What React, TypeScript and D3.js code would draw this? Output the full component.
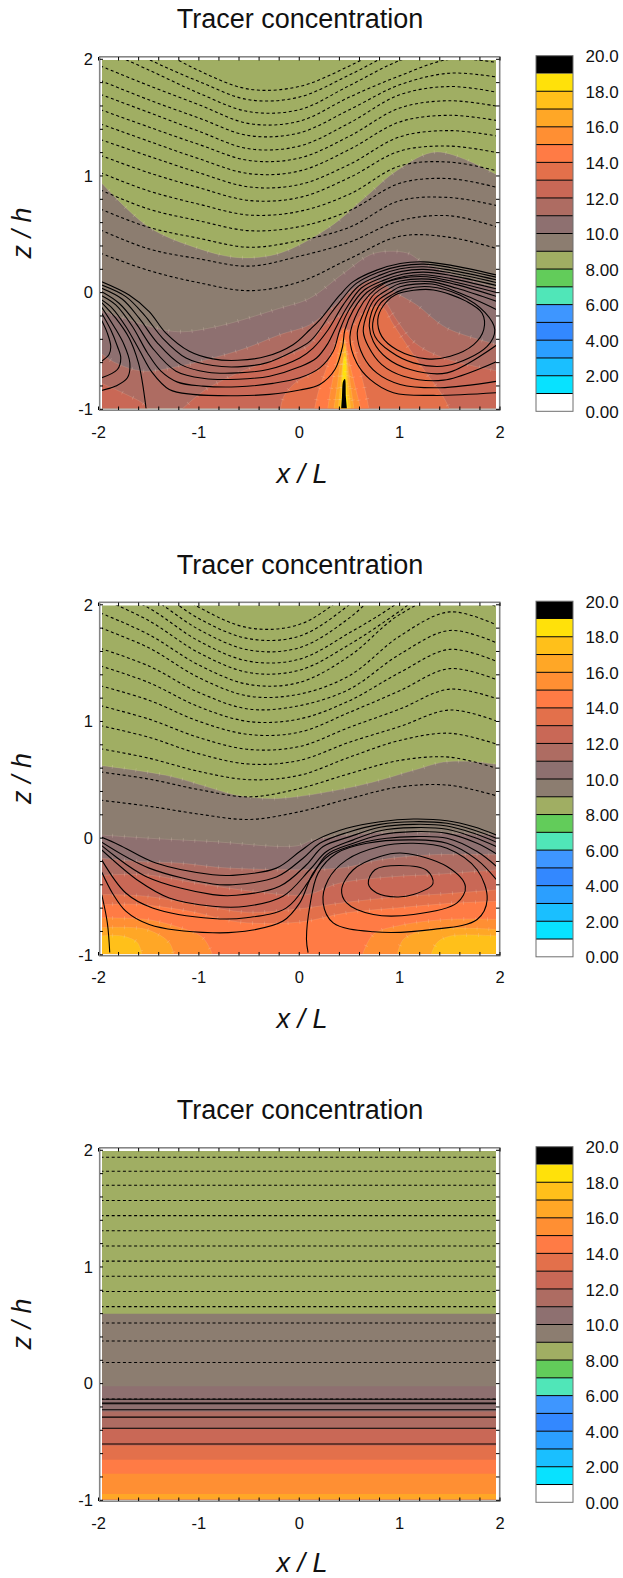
import React from "react";
import * as d3 from "d3";

type P = [number, number];

const titleText = "Tracer concentration";
const xTickLabels = [-2, -1, 0, 1, 2];
const zTickLabels = [-1, 0, 1, 2];
const colorbarLabels = ["0.00", "2.00", "4.00", "6.00", "8.00", "10.0", "12.0", "14.0", "16.0", "18.0", "20.0"];
const palette = ["#ffffff", "#08e2ff", "#1abfff", "#2b9fff", "#3388ff", "#3e96ff", "#50e6b8", "#62cc5a", "#a0ae63", "#8c7d70", "#8e7070", "#ae6c62", "#c96856", "#e3704b", "#ff7b45", "#ff8f33", "#ffa726", "#ffc01a", "#ffe10a", "#000000"];

const dashedColumns = [-1.98, -1.5, -1, -0.5, 0, 0.5, 1, 1.5, 1.98];

const panel1Dashed = [
  [2.363, 2.136, 1.903, 1.744, 1.767, 1.943, 2.165, 2.307, 2.278],
  [2.221, 2.0, 1.81, 1.653, 1.676, 1.866, 2.08, 2.207, 2.179],
  [2.094, 1.909, 1.71, 1.551, 1.568, 1.775, 1.989, 2.108, 2.065],
  [1.943, 1.775, 1.611, 1.449, 1.469, 1.676, 1.858, 2.0, 1.971],
  [1.818, 1.653, 1.497, 1.346, 1.369, 1.568, 1.781, 1.881, 1.846],
  [1.699, 1.545, 1.383, 1.233, 1.256, 1.454, 1.696, 1.767, 1.716],
  [1.568, 1.42, 1.27, 1.133, 1.153, 1.341, 1.582, 1.645, 1.596],
  [1.446, 1.298, 1.148, 1.02, 1.042, 1.227, 1.463, 1.52, 1.474],
  [1.312, 1.17, 1.028, 0.906, 0.926, 1.099, 1.335, 1.389, 1.341],
  [1.176, 1.028, 0.9, 0.79, 0.815, 0.986, 1.213, 1.256, 1.199],
  [1.028, 0.872, 0.758, 0.665, 0.696, 0.844, 1.085, 1.119, 1.042],
  [0.88, 0.716, 0.616, 0.531, 0.565, 0.702, 0.937, 0.977, 0.9],
  [0.716, 0.56, 0.466, 0.389, 0.446, 0.56, 0.787, 0.815, 0.744],
  [0.537, 0.375, 0.29, 0.227, 0.312, 0.432, 0.616, 0.659, 0.56],
  [0.338, 0.19, 0.085, 0.017, 0.091, 0.29, 0.483, 0.474, 0.375],
];

const panel2Dashed = [
  [2.47, 2.266, 1.979, 1.802, 1.831, 2.101, 2.399, 2.882, 2.797],
  [2.342, 2.172, 1.882, 1.709, 1.731, 2.001, 2.385, 2.726, 2.626],
  [2.243, 2.072, 1.788, 1.612, 1.632, 1.888, 2.285, 2.57, 2.456],
  [2.158, 1.973, 1.689, 1.516, 1.533, 1.76, 2.03, 2.413, 2.314],
  [2.058, 1.865, 1.589, 1.419, 1.439, 1.66, 1.945, 2.257, 2.158],
  [1.93, 1.746, 1.484, 1.317, 1.334, 1.561, 1.916, 2.092, 1.979],
  [1.802, 1.632, 1.376, 1.217, 1.234, 1.393, 1.731, 1.939, 1.822],
  [1.626, 1.476, 1.249, 1.106, 1.135, 1.277, 1.575, 1.78, 1.669],
  [1.476, 1.334, 1.126, 0.999, 1.021, 1.178, 1.419, 1.618, 1.51],
  [1.305, 1.183, 1.001, 0.888, 0.908, 1.078, 1.263, 1.453, 1.354],
  [1.135, 1.021, 0.862, 0.76, 0.785, 0.95, 1.106, 1.277, 1.192],
  [0.964, 0.865, 0.723, 0.635, 0.666, 0.822, 0.956, 1.098, 0.999],
  [0.766, 0.686, 0.572, 0.501, 0.538, 0.694, 0.837, 0.899, 0.802],
  [0.567, 0.507, 0.416, 0.354, 0.425, 0.553, 0.666, 0.694, 0.595],
  [0.325, 0.274, 0.206, 0.16, 0.226, 0.339, 0.439, 0.453, 0.359],
];

const panel3DashedLevels = [1.94, 1.82, 1.7, 1.57, 1.44, 1.31, 1.18, 1.05, 0.92, 0.79, 0.66, 0.52, 0.365, 0.181, -0.132];
const panel3SolidLevels = [-0.134, -0.166, -0.172, -0.224, -0.287, -0.382, -0.517];
const panel3BandLevels = [9, 10, 11, 12, 13, 14, 15, 16];
const panel3BandTops = [0.6, -0.023, -0.239, -0.388, -0.532, -0.652, -0.773, -0.945];

const panel1Bands: { level: number; edge: P[] }[] = [
  { level: 9, edge: [[-1.98, 0.95], [-1.5, 0.563], [-1.0, 0.377], [-0.606, 0.3], [-0.21, 0.334], [0.305, 0.563], [0.66, 0.82], [0.978, 1.049], [1.374, 1.206], [1.98, 1.005]] },
  { level: 10, edge: [[-1.98, -0.148], [-1.26, -0.332], [-0.86, -0.298], [-0.195, -0.134], [0.105, -0.048], [0.44, 0.165], [0.74, 0.335], [1.07, 0.341], [1.2, 0.278], [1.5, 0.165], [1.98, 0.037]] },
  { level: 11, edge: [[-1.98, -0.517], [-1.83, -0.602], [-1.56, -0.673], [-1.195, -0.631], [-0.86, -0.56], [-0.53, -0.475], [-0.195, -0.361], [0.105, -0.276], [0.34, -0.12], [0.57, 0.05], [0.755, 0.108], [0.97, -0.006], [1.17, -0.105], [1.47, -0.304], [1.98, -0.446]] },
  { level: 12, edge: [[-1.98, -0.773], [-1.76, -0.858], [-1.545, -0.957], [-1.49, -1.02]] },
  { level: 12, edge: [[-1.195, -1.02], [-0.93, -0.83], [-0.53, -0.66], [-0.195, -0.56], [0.105, -0.446], [0.24, -0.29], [0.505, -0.148], [0.72, -0.02], [0.805, -0.02], [0.97, -0.233], [1.155, -0.432], [1.44, -0.56], [1.98, -0.673]] },
  { level: 13, edge: [[-0.19, -1.02], [-0.16, -0.9], [-0.05, -0.78], [0.17, -0.67], [0.34, -0.517], [0.505, -0.318], [0.67, -0.148], [0.82, -0.12], [0.94, -0.276], [1.07, -0.446], [1.24, -0.659], [1.42, -0.872], [1.49, -0.986], [1.5, -1.02]] },
  { level: 14, edge: [[0.147, -1.02], [0.19, -0.85], [0.27, -0.65], [0.37, -0.42], [0.45, -0.3], [0.53, -0.42], [0.6, -0.65], [0.66, -0.85], [0.7, -1.02]] },
  { level: 15, edge: [[0.28, -1.02], [0.31, -0.85], [0.37, -0.6], [0.44, -0.38], [0.5, -0.6], [0.57, -0.85], [0.62, -1.02]] },
  { level: 16, edge: [[0.34, -1.02], [0.37, -0.85], [0.41, -0.6], [0.45, -0.42], [0.48, -0.6], [0.52, -0.85], [0.55, -1.02]] },
  { level: 17, edge: [[0.385, -1.02], [0.41, -0.8], [0.44, -0.55], [0.455, -0.46], [0.47, -0.55], [0.49, -0.8], [0.515, -1.02]] },
  { level: 18, edge: [[0.41, -1.02], [0.425, -0.8], [0.45, -0.55], [0.46, -0.55], [0.47, -0.8], [0.49, -1.02]] },
  { level: 19, edge: [[0.415, -1.02], [0.425, -0.9], [0.437, -0.76], [0.455, -0.74], [0.465, -0.9], [0.478, -1.02]] },
];

const panel2Bands: { level: number; edge: P[] }[] = [
  { level: 9, edge: [[-1.98, 0.623], [-1.328, 0.538], [-0.862, 0.425], [-0.628, 0.368], [-0.295, 0.339], [-0.028, 0.354], [0.405, 0.416], [0.738, 0.481], [1.138, 0.581], [1.438, 0.652], [1.672, 0.658], [1.98, 0.632]] },
  { level: 10, edge: [[-1.98, 0.027], [-1.495, -0.001], [-0.862, -0.03], [-0.028, -0.067], [0.138, -0.015], [0.572, 0.036], [1.072, 0.05], [1.98, 0.027]] },
  { level: 11, edge: [[-1.98, -0.172], [-1.595, -0.2], [-1.195, -0.214], [-0.695, -0.257], [0.405, -0.257], [0.805, -0.186], [1.305, -0.143], [1.98, -0.143]] },
  { level: 12, edge: [[-1.98, -0.319], [-1.528, -0.314], [-1.028, -0.385], [-0.462, -0.456], [0.072, -0.484], [0.405, -0.385], [0.972, -0.328], [1.305, -0.314], [1.98, -0.271]] },
  { level: 13, edge: [[-1.98, -0.484], [-1.528, -0.498], [-1.028, -0.569], [-0.528, -0.635], [-0.062, -0.612], [0.472, -0.55], [0.972, -0.504], [1.472, -0.476], [1.98, -0.442]] },
  { level: 14, edge: [[-1.98, -0.57], [-1.595, -0.569], [-1.095, -0.626], [-0.595, -0.72], [0.0, -0.72], [0.472, -0.64], [0.972, -0.598], [1.472, -0.561], [1.98, -0.541]] },
  { level: 15, edge: [[-1.98, -0.683], [-1.528, -0.697], [-1.262, -0.748], [-0.962, -0.853], [-0.855, -1.02]] },
  { level: 15, edge: [[0.622, -1.02], [0.738, -0.825], [1.005, -0.748], [1.472, -0.697], [1.98, -0.697]] },
  { level: 16, edge: [[-1.98, -0.768], [-1.528, -0.782], [-1.295, -0.896], [-1.245, -1.02]] },
  { level: 16, edge: [[0.972, -1.02], [1.038, -0.868], [1.305, -0.783], [1.98, -0.783]] },
  { level: 17, edge: [[-1.98, -0.839], [-1.762, -0.839], [-1.612, -0.896], [-1.562, -1.02]] },
  { level: 17, edge: [[1.305, -1.02], [1.372, -0.896], [1.505, -0.839], [1.98, -0.839]] },
];

const panel1Open: P[][] = [
  [[-1.968, 0.094], [-1.695, -0.02], [-1.495, -0.162], [-1.328, -0.347], [-1.095, -0.503], [-0.862, -0.568], [-0.612, -0.58], [-0.328, -0.546], [-0.062, -0.446], [0.105, -0.318], [0.205, -0.233], [0.405, -0.02], [0.538, 0.094], [0.772, 0.193], [1.005, 0.25], [1.238, 0.264], [1.505, 0.236], [1.972, 0.15]],
  [[-1.968, 0.065], [-1.728, -0.034], [-1.545, -0.19], [-1.362, -0.389], [-1.128, -0.56], [-0.862, -0.625], [-0.612, -0.636], [-0.328, -0.602], [-0.062, -0.503], [0.105, -0.418], [0.205, -0.318], [0.305, -0.19], [0.422, -0.06], [0.565, 0.077], [0.788, 0.175], [1.005, 0.227], [1.238, 0.244], [1.505, 0.216], [1.972, 0.131]],
  [[-1.968, 0.037], [-1.762, -0.057], [-1.595, -0.219], [-1.412, -0.432], [-1.178, -0.617], [-0.912, -0.682], [-0.612, -0.688], [-0.312, -0.659], [0.005, -0.56], [0.138, -0.475], [0.288, -0.318], [0.438, -0.105], [0.592, 0.057], [0.805, 0.15], [1.005, 0.204], [1.238, 0.222], [1.505, 0.193], [1.972, 0.108]],
  [[-1.968, 0.008], [-1.795, -0.091], [-1.628, -0.261], [-1.462, -0.475], [-1.228, -0.673], [-0.945, -0.736], [-0.612, -0.742], [-0.295, -0.716], [0.005, -0.636], [0.172, -0.56], [0.288, -0.432], [0.355, -0.318], [0.472, -0.13], [0.618, 0.04], [0.822, 0.128], [1.022, 0.182], [1.238, 0.199], [1.505, 0.17], [1.972, 0.085]],
  [[-1.968, -0.026], [-1.828, -0.105], [-1.662, -0.29], [-1.512, -0.517], [-1.378, -0.673], [-1.212, -0.767], [-0.962, -0.801], [-0.612, -0.807], [-0.262, -0.778], [0.005, -0.73], [0.205, -0.645], [0.338, -0.503], [0.405, -0.318], [0.505, -0.134], [0.648, 0.023], [0.838, 0.105], [1.038, 0.159], [1.238, 0.176], [1.505, 0.148], [1.972, 0.06]],
  [[-1.968, -0.063], [-1.862, -0.134], [-1.728, -0.29], [-1.595, -0.489], [-1.462, -0.688], [-1.295, -0.83], [-1.062, -0.872], [-0.612, -0.884], [-0.295, -0.872], [0.005, -0.835], [0.205, -0.787], [0.355, -0.659], [0.432, -0.46], [0.455, -0.318], [0.538, -0.15], [0.675, 0.003], [0.855, 0.09], [1.055, 0.14], [1.238, 0.153], [1.505, 0.122], [1.972, 0.031]],
  [[1.972, -0.858], [1.338, -0.881], [0.938, -0.858], [0.705, -0.744], [0.572, -0.602], [0.505, -0.375], [0.59, -0.15], [0.702, -0.014], [0.85, 0.08], [1.005, 0.122], [1.272, 0.136], [1.538, 0.094], [1.972, 0.0]],
  [[1.972, -0.759], [1.405, -0.815], [1.005, -0.787], [0.772, -0.688], [0.638, -0.545], [0.578, -0.347], [0.64, -0.176], [0.728, -0.031], [0.87, 0.06], [1.005, 0.1], [1.288, 0.116], [1.555, 0.071], [1.972, -0.034]],
  [[1.972, -0.588], [1.438, -0.75], [1.038, -0.716], [0.822, -0.617], [0.688, -0.46], [0.638, -0.332], [0.68, -0.17], [0.755, -0.051], [0.89, 0.03], [1.005, 0.078], [1.305, 0.094], [1.572, 0.037], [1.972, -0.077]],
  [[1.972, -0.446], [1.472, -0.688], [1.105, -0.659], [0.872, -0.56], [0.738, -0.418], [0.698, -0.29], [0.72, -0.17], [0.785, -0.068], [0.91, 0.005], [1.005, 0.05], [1.322, 0.074], [1.605, -0.006], [1.972, -0.148]],
  [[-1.968, -0.125], [-1.845, -0.29], [-1.745, -0.446], [-1.688, -0.602], [-1.712, -0.73], [-1.828, -0.801], [-1.968, -0.838]],
  [[-1.968, -0.176], [-1.878, -0.318], [-1.812, -0.46], [-1.778, -0.56], [-1.812, -0.659], [-1.968, -0.73]],
  [[-1.968, -0.239], [-1.912, -0.347], [-1.878, -0.46], [-1.895, -0.531], [-1.968, -0.588]],
  [[-1.968, -0.085], [-1.828, -0.219], [-1.695, -0.389], [-1.602, -0.602], [-1.562, -0.773], [-1.525, -1.0]],
];

const panel1Closed: P[][] = [
  [[1.948, -0.318], [1.872, -0.46], [1.472, -0.625], [1.138, -0.602], [0.905, -0.503], [0.755, -0.375], [0.732, -0.261], [0.812, -0.088], [0.93, -0.015], [1.05, 0.03], [1.3, 0.051], [1.6, -0.02], [1.85, -0.17]],
  [[1.838, -0.318], [1.822, -0.176], [1.672, -0.077], [1.338, 0.023], [1.138, 0.02], [0.955, -0.02], [0.835, -0.115], [0.782, -0.233], [0.822, -0.375], [0.972, -0.489], [1.272, -0.568], [1.505, -0.546], [1.738, -0.446]],
];

const panel2Open: P[][] = [
  [[-1.968, 0.007], [-1.795, -0.058], [-1.428, -0.214], [-0.862, -0.314], [-0.662, -0.319], [-0.228, -0.257], [0.005, -0.115], [0.172, -0.015], [0.472, 0.084], [0.805, 0.141], [1.138, 0.164], [1.472, 0.149], [1.738, 0.098], [1.965, 0.027]],
  [[-1.968, -0.035], [-1.495, -0.257], [-0.862, -0.393], [-0.662, -0.399], [-0.228, -0.334], [0.038, -0.172], [0.205, -0.044], [0.472, 0.047], [0.805, 0.118], [1.138, 0.141], [1.472, 0.127], [1.738, 0.07], [1.965, -0.001]],
  [[-1.968, -0.064], [-1.528, -0.328], [-0.862, -0.484], [-0.628, -0.49], [-0.195, -0.413], [0.072, -0.228], [0.238, -0.072], [0.505, 0.013], [0.805, 0.093], [1.138, 0.118], [1.472, 0.104], [1.738, 0.041], [1.965, -0.035]],
  [[-1.968, -0.101], [-1.595, -0.37], [-1.295, -0.513], [-0.862, -0.584], [-0.528, -0.584], [-0.162, -0.498], [0.105, -0.271], [0.272, -0.115], [0.538, -0.015], [0.805, 0.064], [1.138, 0.09], [1.472, 0.076], [1.738, 0.007], [1.965, -0.072]],
  [[-1.968, -0.186], [-1.728, -0.47], [-1.462, -0.598], [-0.862, -0.689], [-0.528, -0.683], [-0.128, -0.598], [0.105, -0.356], [0.272, -0.143], [0.538, -0.044], [0.805, 0.027], [1.138, 0.056], [1.472, 0.041], [1.772, -0.044], [1.965, -0.135]],
  [[-1.968, -0.291], [-1.862, -0.47], [-1.728, -0.626], [-1.495, -0.74], [-0.862, -0.811], [-0.462, -0.788], [-0.162, -0.711], [0.005, -0.555], [0.138, -0.3], [0.305, -0.143], [0.605, -0.044], [0.872, -0.001], [1.138, 0.013], [1.472, -0.001], [1.772, -0.115], [1.965, -0.243]],
  [[-1.968, -0.484], [-1.912, -0.726], [-1.888, -0.981]],
  [[0.088, -0.981], [0.072, -0.868], [0.105, -0.584], [0.188, -0.3], [0.372, -0.129], [0.672, -0.044], [1.138, -0.015], [1.472, -0.044], [1.772, -0.186], [1.965, -0.356]],
];

const panel2Closed: P[][] = [
  [[0.238, -0.555], [0.288, -0.356], [0.472, -0.186], [0.805, -0.072], [1.138, -0.044], [1.472, -0.086], [1.772, -0.271], [1.872, -0.527], [1.772, -0.697], [1.338, -0.782], [0.738, -0.802], [0.338, -0.726]],
  [[0.422, -0.442], [0.538, -0.271], [0.805, -0.157], [1.038, -0.129], [1.472, -0.243], [1.655, -0.413], [1.572, -0.555], [1.138, -0.655], [0.738, -0.655], [0.472, -0.555]],
  [[0.688, -0.39], [0.755, -0.271], [1.005, -0.234], [1.272, -0.277], [1.332, -0.39], [1.138, -0.484], [0.972, -0.504], [0.772, -0.47]],
];

const xFill: [number, number] = [-1.965, 1.96];
const zFill: [number, number] = [-0.99, 1.993];

const x = d3.scaleLinear().domain([-2, 2]).range([98.5, 500]);
const z = d3.scaleLinear().domain([-1, 2]).range([409.3, 59.3]);
const cbar = d3.scaleLinear().domain([0, 20]).range([411.3, 55.7]);

const openLine = d3.line<P>().x((d) => x(d[0])).y((d) => z(d[1])).curve(d3.curveCatmullRom.alpha(0.5));
const closedLine = d3.line<P>().x((d) => x(d[0])).y((d) => z(d[1])).curve(d3.curveCatmullRomClosed.alpha(0.5));
const bandPath = (edge: P[]) => {
  const first = edge[0];
  const last = edge[edge.length - 1];
  return `${openLine(edge)}L${x(last[0])},${z(-1.03)}L${x(first[0])},${z(-1.03)}Z`;
};

const sans = "'Liberation Sans', Arial, sans-serif";

function Panel({ offset, id, bands, dashed, open, closed, marked, labelShift = 0 }: {
  offset: number; id: string; bands: { level: number; edge: P[] }[]; dashed: P[][]; open: P[][]; closed: P[][]; marked: boolean; labelShift?: number;
}) {
  const xTicks = d3.range(-10, 11).map((d) => d / 5);
  const zTicks = d3.range(-5, 11).map((d) => d / 5);
  const levels = d3.range(0, 20);
  return (
    <g transform={`translate(0,${offset})`} fontFamily={sans} fill="#111">
      <text x={300} y={28} fontSize={27} textAnchor="middle">{titleText}</text>
      <clipPath id={id}>
        <rect x={x(xFill[0])} y={z(zFill[1])} width={x(xFill[1]) - x(xFill[0])} height={z(zFill[0]) - z(zFill[1])} />
      </clipPath>
      <g clipPath={`url(#${id})`}>
        <rect x={90} y={50} width={420} height={370} fill={palette[8]} />
        {bands.map((b, i) => (
          <g key={i}>
            <path d={bandPath(b.edge)} fill={palette[b.level]} />
            {marked && b.level < 19 && (
              <>
                <path d={openLine(b.edge) ?? ""} fill="none" stroke="#f0dcc8" strokeOpacity={0.2} strokeWidth={0.8} />
                <path d={openLine(b.edge) ?? ""} fill="none" stroke="#f0dcc8" strokeOpacity={0.28} strokeWidth={4} strokeDasharray="0.8 11" />
              </>
            )}
          </g>
        ))}
        {dashed.map((d, i) => (
          <path key={i} d={openLine(d) ?? ""} fill="none" stroke="#000" strokeWidth={1.1} strokeDasharray="3 2.6" />
        ))}
        {open.map((d, i) => (
          <path key={i} d={openLine(d) ?? ""} fill="none" stroke="#000" strokeWidth={1.1} />
        ))}
        {closed.map((d, i) => (
          <path key={i} d={closedLine(d) ?? ""} fill="none" stroke="#000" strokeWidth={1.1} />
        ))}
      </g>
      <rect x={99.7} y={56.8} width={400} height={353.4} fill="none" stroke="#858585" strokeWidth={1.6} />
      {xTicks.map((t) => (
        <g key={t} stroke="#000" strokeWidth={1}>
          <line x1={x(t)} x2={x(t)} y1={410} y2={406.5} />
          <line x1={x(t)} x2={x(t)} y1={57} y2={60.5} />
        </g>
      ))}
      {zTicks.map((t) => (
        <g key={t} stroke="#000" strokeWidth={1}>
          <line x1={100} x2={103} y1={z(t)} y2={z(t)} />
          <line x1={496} x2={499.5} y1={z(t)} y2={z(t)} />
        </g>
      ))}
      {xTickLabels.map((t) => (
        <text key={t} x={x(t)} y={437.7} fontSize={16.5} textAnchor="middle">{t}</text>
      ))}
      {zTickLabels.map((t) => (
        <text key={t} x={93} y={z(t) + 5.8} fontSize={16.5} textAnchor="end">{t}</text>
      ))}
      <text x={302} y={482.7 + labelShift} fontSize={27} fontStyle="italic" textAnchor="middle">x / L</text>
      <text transform="translate(31,233) rotate(-90)" fontSize={27} fontStyle="italic" textAnchor="middle">z / h</text>
      {levels.map((l) => (
        <rect key={l} x={536} y={cbar(l + 1)} width={37} height={cbar(l) - cbar(l + 1)} fill={palette[l]} />
      ))}
      {levels.slice(1, 19).map((l) => (
        <line key={l} x1={536} x2={573} y1={cbar(l)} y2={cbar(l)} stroke="#000" strokeWidth={1} />
      ))}
      <rect x={536} y={cbar(20)} width={37} height={cbar(0) - cbar(20)} fill="none" stroke="#6e6e6e" strokeWidth={1} />
      {colorbarLabels.map((t, i) => (
        <text key={t} x={585.5} y={cbar(i * 2) + 6.6} fontSize={17}>{t}</text>
      ))}
    </g>
  );
}

const rows = (table: number[][]): P[][] => table.map((r) => r.map((v, i) => [dashedColumns[i], v] as P));
const flat = (levels: number[]): P[][] => levels.map((v) => [[-1.98, v], [1.98, v]] as P[]);

export default function App() {
  const panel3Bands = panel3BandLevels.map((level, i) => ({ level, edge: flat([panel3BandTops[i]])[0] }));
  return (
    <svg width={623} height={1578} viewBox="0 0 623 1578" style={{ position: "absolute", left: 0, top: 0, display: "block", background: "#fff" }}>
      <Panel offset={0} id="p1" bands={panel1Bands} dashed={rows(panel1Dashed)} open={panel1Open} closed={panel1Closed} marked />
      <Panel offset={545.5} id="p2" bands={panel2Bands} dashed={rows(panel2Dashed)} open={panel2Open} closed={panel2Closed} marked />
      <Panel offset={1091} id="p3" bands={panel3Bands} dashed={flat(panel3DashedLevels)} open={flat(panel3SolidLevels)} closed={[]} marked={false} labelShift={-2} />
    </svg>
  );
}
